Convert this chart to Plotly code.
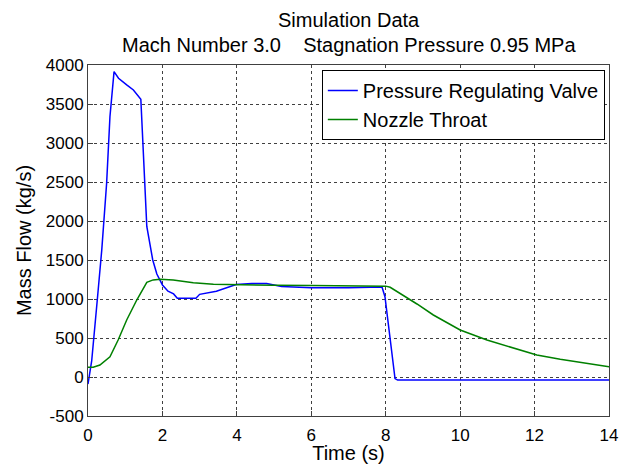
import plotly.graph_objects as go

# Pressure Regulating Valve (blue)
t_prv = [0, 0.1, 0.25, 0.37, 0.5, 0.59, 0.7, 0.82, 1.04, 1.22, 1.42, 1.58, 1.74, 1.85,
         2.0, 2.15, 2.3, 2.4, 2.9, 3.0, 3.45, 3.98, 4.4, 4.8, 5.2, 6.0, 7.0, 7.9, 7.98,
         8.25, 8.32, 14]
m_prv = [-90, 210, 990, 1630, 2480, 3340, 3915, 3830, 3745, 3680, 3560, 1930, 1500, 1320,
         1180, 1100, 1065, 1010, 1010, 1060, 1100, 1185, 1200, 1200, 1160, 1145, 1145, 1155, 1030,
         -20, -40, -40]

# Nozzle Throat (green)
t_nt = [0, 0.14, 0.32, 0.59, 0.81, 1.04, 1.31, 1.58, 1.75, 1.94, 2.29, 2.83, 3.37, 3.98,
        5, 6, 7, 8.0, 8.12, 8.39, 8.84, 9.28, 10.0, 10.72, 11.43, 12.06, 12.69, 13.31, 14]
m_nt = [124, 124, 154, 260, 474, 731, 987, 1214, 1245, 1252, 1243, 1209, 1188, 1180,
        1175, 1172, 1170, 1165, 1150, 1073, 936, 795, 603, 474, 368, 282, 227, 183, 132]

x_ticks = [0, 2, 4, 6, 8, 10, 12, 14]
y_ticks = [-500, 0, 500, 1000, 1500, 2000, 2500, 3000, 3500, 4000]

FONT = "Liberation Sans, Arial, sans-serif"

fig = go.Figure()
fig.add_trace(go.Scatter(x=t_prv, y=m_prv, mode="lines", name="Pressure Regulating Valve",
                         line=dict(color="#0000FF", width=1.5)))
fig.add_trace(go.Scatter(x=t_nt, y=m_nt, mode="lines", name="Nozzle Throat",
                         line=dict(color="#008000", width=1.5)))

axis_common = dict(showline=True, linecolor="#404040", linewidth=1, mirror=True,
                   showgrid=True, gridcolor="#404040", griddash="dot", gridwidth=1,
                   ticks="inside", ticklen=5, tickcolor="#404040", zeroline=False,
                   automargin=False,
                   tickfont=dict(family=FONT, size=17, color="black"))

fig.update_xaxes(range=[0, 14], tickvals=x_ticks, ticktext=[str(v) for v in x_ticks],
                 ticklabelstandoff=4,
                 title=dict(text="Time (s)", font=dict(family=FONT, size=20, color="black"),
                            standoff=3),
                 **axis_common)
fig.update_yaxes(range=[-500, 4000], tickvals=y_ticks, ticktext=[str(v) for v in y_ticks],
                 title=dict(text="Mass Flow (kg/s)", font=dict(family=FONT, size=20, color="black"),
                            standoff=8),
                 **axis_common)

fig.add_annotation(text="Simulation Data", xref="paper", yref="paper", x=0.5, y=1,
                   yshift=45, showarrow=False, xanchor="center", yanchor="middle",
                   font=dict(family=FONT, size=20, color="black"))
fig.add_annotation(text="Mach Number 3.0&nbsp;&nbsp;&nbsp;&nbsp;Stagnation Pressure 0.95 MPa",
                   xref="paper", yref="paper", x=0.5, y=1,
                   yshift=20, showarrow=False, xanchor="center", yanchor="middle",
                   font=dict(family=FONT, size=20, color="black"))

fig.update_layout(
    width=628, height=464,
    margin=dict(l=88, r=19, t=65, b=48),
    paper_bgcolor="white", plot_bgcolor="white",
    font=dict(family=FONT, color="black"),
    showlegend=True,
    legend=dict(x=0.992, y=0.986, xanchor="right", yanchor="top",
                bordercolor="black", borderwidth=1, bgcolor="white",
                font=dict(family=FONT, size=20, color="black"),
                tracegroupgap=0),
)

fig.write_html("out.html")
